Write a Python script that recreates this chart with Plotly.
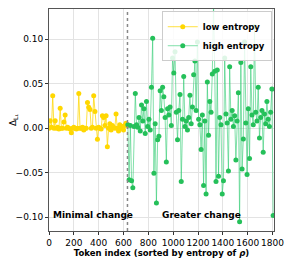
import plotly.graph_objects as go

low_x = list(range(0, 640, 10))
low_y = [0.000, 0.0085, 0.001, 0.0366, 0.000, 0.0085, 0.000, 0.001, -0.001, 0.0225,
         0.000, 0.000, 0.007, 0.015, 0.000, 0.001, 0.000, -0.001, -0.005, 0.000,
         0.001, 0.000, -0.001, 0.000, 0.039, 0.000, 0.000, 0.001, -0.002, 0.000,
         0.000, 0.029, 0.0235, 0.021, 0.000, 0.001, 0.0366, 0.0187, 0.000, -0.0124,
         0.001, 0.000, -0.001, 0.014, 0.012, 0.003, 0.014, -0.0207, 0.000, 0.005,
         -0.002, 0.003, 0.001, 0.000, 0.016, 0.000, -0.003, 0.004, 0.000, 0.002,
         -0.002, 0.003, 0.0056, 0.003]

high_x = list(range(635, 1815, 10))
high_y = [0.004, -0.058, 0.003, -0.059, -0.067, 0.002, 0.039, 0.004, 0.001, 0.012,
          -0.003, 0.026, 0.008, 0.022, -0.006, 0.030, 0.002, 0.010, -0.002, 0.046,
          0.101, -0.0506, 0.005, -0.084, -0.013, -0.009, 0.042, 0.020, 0.046, 0.0355,
          0.012, -0.038, 0.022, 0.015, 0.024, 0.003, 0.079, 0.062, 0.086, 0.018,
          -0.013, 0.020, 0.038, -0.060, 0.010, 0.058, 0.002, 0.008, -0.002, 0.012,
          0.037, 0.005, 0.024, 0.060, 0.0756, 0.020, 0.097, 0.010, 0.004, -0.024,
          0.015, -0.0645, 0.008, -0.074, 0.052, -0.008, 0.030, 0.018, 0.061, 0.14,
          0.064, -0.060, 0.0655, -0.054, 0.012, 0.004, -0.074, -0.059, 0.079, 0.016,
          0.006, -0.048, 0.069, 0.010, 0.020, 0.002, 0.014, -0.0356, 0.008, 0.040,
          -0.105, 0.074, -0.0457, -0.012, 0.097, 0.006, -0.052, 0.022, -0.034, 0.069,
          0.015, 0.004, 0.114, 0.018, 0.008, 0.046, -0.011, 0.012, 0.020, -0.027,
          0.016, 0.005, 0.030, 0.010, 0.002, 0.018, 0.044, -0.098]

split_idx = 632

fig = go.Figure()
fig.add_trace(go.Scatter(
    x=low_x, y=low_y, mode="lines+markers", name="<b>low entropy</b>",
    line=dict(color="rgba(255,215,0,0.75)", width=1),
    marker=dict(color="#FFD700", size=5),
))
fig.add_trace(go.Scatter(
    x=high_x, y=high_y, mode="lines+markers", name="<b>high entropy</b>",
    line=dict(color="rgba(46,204,113,0.6)", width=1),
    marker=dict(color="#25c05a", size=5),
))

fig.add_shape(type="line", x0=split_idx, x1=split_idx, y0=0, y1=1, yref="paper",
              line=dict(color="#888888", width=1.5, dash="dot"))

fig.add_annotation(x=15, y=-0.097, text="<b>Minimal change</b>", showarrow=False,
                   xanchor="left", yanchor="middle", font=dict(size=9, color="black"))
fig.add_annotation(x=1225, y=-0.097, text="<b>Greater change</b>", showarrow=False,
                   xanchor="center", yanchor="middle", font=dict(size=9, color="black"))

axis_common = dict(showgrid=True, gridcolor="#e3e3e3", gridwidth=1, zeroline=False,
                   showline=True, linecolor="#555555", linewidth=1, mirror=True,
                   ticks="outside", ticklen=3, tickcolor="#333333", automargin=False,
                   tickfont=dict(size=9, color="black"))

# page body adds an 8px offset, so the figure is sized to the visible area
fig.update_layout(
    width=284, height=255,
    margin=dict(l=41, r=18, t=1, b=32),
    paper_bgcolor="white", plot_bgcolor="white",
    font=dict(family="DejaVu Sans", size=9, color="black"),
    xaxis=dict(range=[0, 1812], tickvals=[0, 200, 400, 600, 800, 1000, 1200, 1400, 1600, 1800],
               tickangle=0,
               title=dict(text="<b>Token index (sorted by entropy of <i>ρ</i>)</b>",
                          font=dict(size=8.5), standoff=0),
               **axis_common),
    yaxis=dict(range=[-0.1155, 0.134], tickvals=[-0.10, -0.05, 0.0, 0.05, 0.10],
               tickformat=".2f",
               title=dict(text="Δ<sub>L₁</sub>", font=dict(size=9), standoff=6),
               **axis_common),
    legend=dict(x=0.99, y=0.99, xanchor="right", yanchor="top",
                bgcolor="rgba(255,255,255,0.85)", bordercolor="#cccccc", borderwidth=1,
                font=dict(size=8.5, color="black"), tracegroupgap=0,
                itemwidth=30),
    showlegend=True,
)

fig.write_html("out.html")
